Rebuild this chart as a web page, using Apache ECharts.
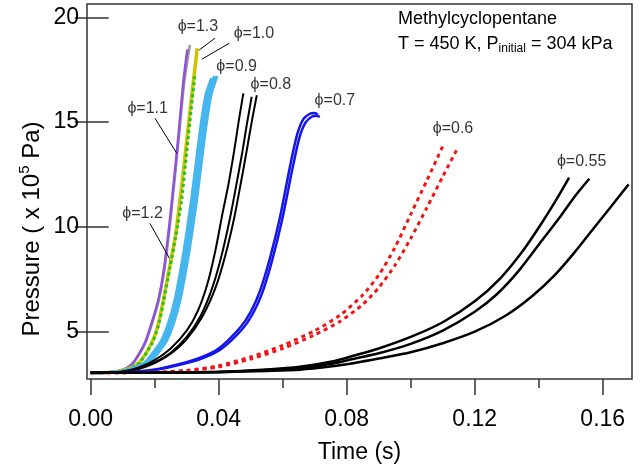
<!DOCTYPE html>
<html><head><meta charset="utf-8">
<script src="https://cdn.jsdelivr.net/npm/echarts@6/dist/echarts.min.js"></script>
<style>html,body{margin:0;padding:0;background:#fff}#c{width:642px;height:470px}</style>
</head><body><div id="c"></div>
<script>
// ---- tick values ----
const xTicks = [0, 0.04, 0.08, 0.12, 0.16];
const xMinorTicks = [0.02, 0.06, 0.10, 0.14];
const yTicks = [5, 10, 15, 20];

// ---- curves: [time (s), pressure (x10^5 Pa)] ----
const phi13 = [[0,3.04],[0.005,3.05],[0.0097,3.17],[0.0127,3.4],[0.0147,3.8],[0.0172,4.5],[0.0192,5.4],[0.0213,6.5],[0.023,7.9],[0.0247,10.0],[0.0262,12.2],[0.0277,14.5],[0.0292,16.85],[0.031,18.68]];
const phi11 = [[0,3.04],[0.005,3.05],[0.0097,3.17],[0.0125,3.4],[0.0145,3.8],[0.017,4.5],[0.019,5.4],[0.0211,6.5],[0.0228,7.9],[0.0245,10.0],[0.026,12.2],[0.0275,14.5],[0.0289,16.85],[0.0302,18.47]];
const phi10 = [[0,3.04],[0.005,3.05],[0.01,3.15],[0.0149,3.49],[0.019,4.45],[0.021,5.3],[0.0227,6.5],[0.0248,8.2],[0.0265,9.6],[0.0279,11.28],[0.0295,13.4],[0.031,15.5],[0.0322,17.1],[0.0333,18.52]];
const phi12 = [[0,3.04],[0.005,3.05],[0.01,3.14],[0.0149,3.47],[0.019,4.4],[0.021,5.2],[0.0227,6.4],[0.0248,8.1],[0.0265,9.5],[0.0284,11.28],[0.03,13.6],[0.0314,15.6],[0.0326,17.3]];
const phi09a = [[0,3.04],[0.005,3.05],[0.01,3.12],[0.0145,3.35],[0.017,3.55],[0.0195,4.0],[0.0222,4.6],[0.0245,5.5],[0.0263,6.5],[0.0282,8.0],[0.0298,9.5],[0.0315,11.3],[0.033,13.1],[0.0345,14.9],[0.036,16.3],[0.0378,17.1]];
const phi09b = [[0,3.04],[0.005,3.05],[0.01,3.11],[0.0153,3.35],[0.0178,3.55],[0.0203,4.0],[0.023,4.6],[0.0253,5.5],[0.0271,6.5],[0.029,8.0],[0.0306,9.5],[0.0323,11.3],[0.0338,13.1],[0.0353,14.9],[0.0368,16.3],[0.0387,17.2]];
const phi09c = [[0,3.04],[0.005,3.05],[0.01,3.1],[0.0161,3.35],[0.0186,3.55],[0.0211,4.0],[0.0238,4.6],[0.0261,5.5],[0.0279,6.5],[0.0298,8.0],[0.0314,9.5],[0.0331,11.3],[0.0346,13.1],[0.0361,14.9],[0.0376,16.3],[0.0395,17.2]];
const phi08a = [[0,3.04],[0.005,3.05],[0.01,3.1],[0.015,3.3],[0.02,3.65],[0.025,4.2],[0.03,5.05],[0.0335,6.0],[0.0365,7.3],[0.039,8.9],[0.041,10.5],[0.043,12.0],[0.0448,13.6],[0.0462,15.0],[0.0477,16.37]];
const phi08b = [[0,3.04],[0.005,3.05],[0.01,3.09],[0.015,3.25],[0.02,3.55],[0.025,4.0],[0.03,4.75],[0.0345,5.8],[0.038,7.1],[0.041,8.7],[0.0435,10.4],[0.0455,12.0],[0.0473,13.5],[0.0488,14.9],[0.0503,16.21]];
const phi08c = [[0,3.04],[0.005,3.05],[0.01,3.08],[0.015,3.22],[0.02,3.5],[0.025,3.95],[0.03,4.65],[0.035,5.75],[0.039,7.1],[0.042,8.6],[0.0448,10.4],[0.0468,12.0],[0.0487,13.6],[0.0503,15.0],[0.0519,16.28]];
const phi07a = [[0,3.04],[0.01,3.06],[0.02,3.2],[0.0275,3.45],[0.0342,3.76],[0.04,4.2],[0.0467,5.2],[0.05,5.95],[0.0529,6.95],[0.056,8.5],[0.0592,10.5],[0.0623,12.9],[0.0645,14.4],[0.0665,15.15],[0.0685,15.4],[0.0698,15.43],[0.071,15.37]];
const phi07b = [[0,3.04],[0.01,3.055],[0.0207,3.19],[0.0282,3.43],[0.0349,3.73],[0.0407,4.16],[0.0474,5.13],[0.0507,5.87],[0.0536,6.85],[0.0567,8.4],[0.0599,10.4],[0.063,12.75],[0.0652,14.25],[0.0672,15.0],[0.0692,15.27],[0.0705,15.3],[0.0716,15.25]];
const phi06a = [[0,3.04],[0.01,3.045],[0.02,3.07],[0.03,3.15],[0.04,3.38],[0.05,3.8],[0.06,4.35],[0.07,5.05],[0.078,5.8],[0.085,6.75],[0.09,7.7],[0.095,9.0],[0.1,10.6],[0.105,12.2],[0.1102,13.91]];
const phi06b = [[0,3.04],[0.01,3.045],[0.02,3.065],[0.03,3.13],[0.04,3.32],[0.05,3.7],[0.06,4.2],[0.07,4.85],[0.078,5.5],[0.085,6.3],[0.09,7.1],[0.095,8.15],[0.1,9.45],[0.105,10.9],[0.11,12.4],[0.1149,13.83]];
const phi055a = [[0,3.04],[0.02,3.05],[0.04,3.09],[0.055,3.2],[0.0654,3.33],[0.0754,3.58],[0.082,3.85],[0.09,4.2],[0.1,4.75],[0.11,5.45],[0.12,6.45],[0.128,7.55],[0.135,8.85],[0.141,10.2],[0.1455,11.3],[0.1495,12.35]];
const phi055b = [[0,3.04],[0.02,3.045],[0.04,3.08],[0.055,3.17],[0.0654,3.25],[0.0754,3.47],[0.082,3.7],[0.09,3.97],[0.1,4.42],[0.11,5.05],[0.12,5.95],[0.127,6.8],[0.134,7.95],[0.141,9.35],[0.147,10.55],[0.1515,11.5],[0.1558,12.3]];
const phi055c = [[0,3.04],[0.02,3.04],[0.04,3.07],[0.055,3.13],[0.0654,3.19],[0.0754,3.35],[0.082,3.5],[0.09,3.72],[0.1,4.02],[0.11,4.45],[0.12,5.0],[0.13,5.8],[0.138,6.7],[0.145,7.7],[0.151,8.75],[0.157,9.9],[0.1625,10.95],[0.1681,12.03]];

// ---- curve labels: [time, pressure, text] ----
const curveLabels = [
  [0.0335, 19.54, 'ϕ=1.3'],
  [0.0510, 19.20, 'ϕ=1.0'],
  [0.0456, 17.63, 'ϕ=0.9'],
  [0.0563, 16.77, 'ϕ=0.8'],
  [0.0763, 16.05, 'ϕ=0.7'],
  [0.0178, 15.63, 'ϕ=1.1'],
  [0.0162, 10.62, 'ϕ=1.2'],
  [0.1132, 14.67, 'ϕ=0.6'],
  [0.1534, 13.14, 'ϕ=0.55']
];
// leader lines: [[t1,p1],[t2,p2]]
const leaders = [
  [[0.0388, 19.0], [0.0339, 18.44]],
  [[0.0433, 18.76], [0.0347, 18.0]],
  [[0.0201, 15.18], [0.0269, 13.51]],
  [[0.0185, 10.17], [0.0246, 8.50]]
];

const FONT = '"Liberation Sans", Arial, sans-serif';

function curve(data, color, width, dash) {
  return {
    type: 'line', data: data, symbol: 'none', showSymbol: false,
    smooth: 0.25, silent: true,
    lineStyle: { color: color, width: width, type: dash || 'solid', cap: 'butt' }
  };
}

const series = [
  curve(phi13, '#9b9b9b', 2.5),
  curve(phi11, '#9150d8', 2.5),
  curve(phi10, '#cbc400', 3.5),
  curve(phi12, '#22c022', 3, [3, 3]),
  curve(phi09a, '#45b5ee', 3),
  curve(phi09b, '#45b5ee', 3),
  curve(phi09c, '#45b5ee', 3),
  curve(phi08a, '#000000', 2),
  curve(phi08b, '#000000', 2),
  curve(phi08c, '#000000', 2),
  curve(phi07a, '#1414ee', 2.5),
  curve(phi07b, '#1414ee', 2.5),
  curve(phi06a, '#f01414', 3, [4, 4]),
  curve(phi06b, '#f01414', 3, [4, 4]),
  curve(phi055a, '#000000', 2.5),
  curve(phi055b, '#000000', 2.5),
  curve(phi055c, '#000000', 2.5)
];
leaders.forEach(function (seg) {
  series.push({
    type: 'line', data: seg, symbol: 'none', silent: true, smooth: false,
    lineStyle: { color: '#000', width: 1 }
  });
});
series.push({
  type: 'scatter', symbolSize: 0, silent: true,
  data: curveLabels.map(function (l) { return { value: [l[0], l[1]], name: l[2] }; }),
  label: {
    show: true, position: 'inside', formatter: function (p) { return p.name; },
    fontFamily: FONT, fontSize: 16, color: '#000'
  }
});

const chart = echarts.init(document.getElementById('c'), null, { renderer: 'canvas' });
chart.setOption({
  animation: false,
  backgroundColor: '#fff',
  grid: { left: 87, right: 10, top: 4, bottom: 91, containLabel: false, show: true, borderColor: '#333', borderWidth: 1.5, backgroundColor: 'transparent' },
  xAxis: [{
    type: 'value', min: -0.00116, max: 0.16915, position: 'bottom', offset: 0,
    axisLine: { show: false }, splitLine: { show: false },
    axisTick: { show: true, customValues: xTicks, length: 16, lineStyle: { color: '#333', width: 1.5 } },
    axisLabel: { customValues: xTicks, formatter: function (v) { return v.toFixed(2); }, margin: 29, fontSize: 23, fontFamily: FONT, color: '#000' },
    name: 'Time (s)', nameLocation: 'middle', nameGap: 62,
    nameTextStyle: { fontSize: 23, fontFamily: FONT, color: '#000' }
  }, {
    type: 'value', min: -0.00116, max: 0.16915, position: 'bottom', offset: 0,
    axisLine: { show: false }, splitLine: { show: false },
    axisTick: { show: true, customValues: xMinorTicks, length: 9, lineStyle: { color: '#333', width: 1.5 } },
    axisLabel: { show: false }
  }],
  yAxis: [{
    type: 'value', min: 2.744, max: 20.635, position: 'left',
    axisLine: { show: false }, splitLine: { show: false },
    axisTick: { show: true, inside: true, customValues: yTicks, length: 18, lineStyle: { color: '#333', width: 1.5 } },
    axisLabel: { customValues: yTicks, margin: 8, fontSize: 23, fontFamily: FONT, color: '#000' }
  }, {
    type: 'value', min: 2.744, max: 20.635, position: 'right',
    axisLine: { show: false }, splitLine: { show: false },
    axisTick: { show: true, inside: true, customValues: yTicks, length: 16, lineStyle: { color: '#333', width: 1.5 } },
    axisLabel: { show: false }
  }],
  graphic: [
    {
      type: 'text', x: 32, y: 229, rotation: Math.PI / 2,
      style: {
        text: 'Pressure ( x 10{sup|5} Pa)', align: 'center', verticalAlign: 'middle',
        fontFamily: FONT, fontSize: 24, fill: '#000', lineHeight: 30,
        rich: { sup: { fontSize: 15, fontFamily: FONT, fill: '#000', verticalAlign: 'top', lineHeight: 15 } }
      }
    },
    {
      type: 'text', x: 398, y: 19,
      style: { text: 'Methylcyclopentane', fontFamily: FONT, fontSize: 18, fill: '#000', verticalAlign: 'middle', align: 'left' }
    },
    {
      type: 'text', x: 398, y: 44,
      style: {
        text: 'T = 450 K, P{sub|initial} = 304 kPa', fontFamily: FONT, fontSize: 18, fill: '#000',
        verticalAlign: 'middle', align: 'left', lineHeight: 22,
        rich: { sub: { fontSize: 12, fontFamily: FONT, fill: '#000', verticalAlign: 'bottom', lineHeight: 12, padding: [8, 0, 0, 0] } }
      }
    }
  ],
  series: series
});
</script></body></html>
